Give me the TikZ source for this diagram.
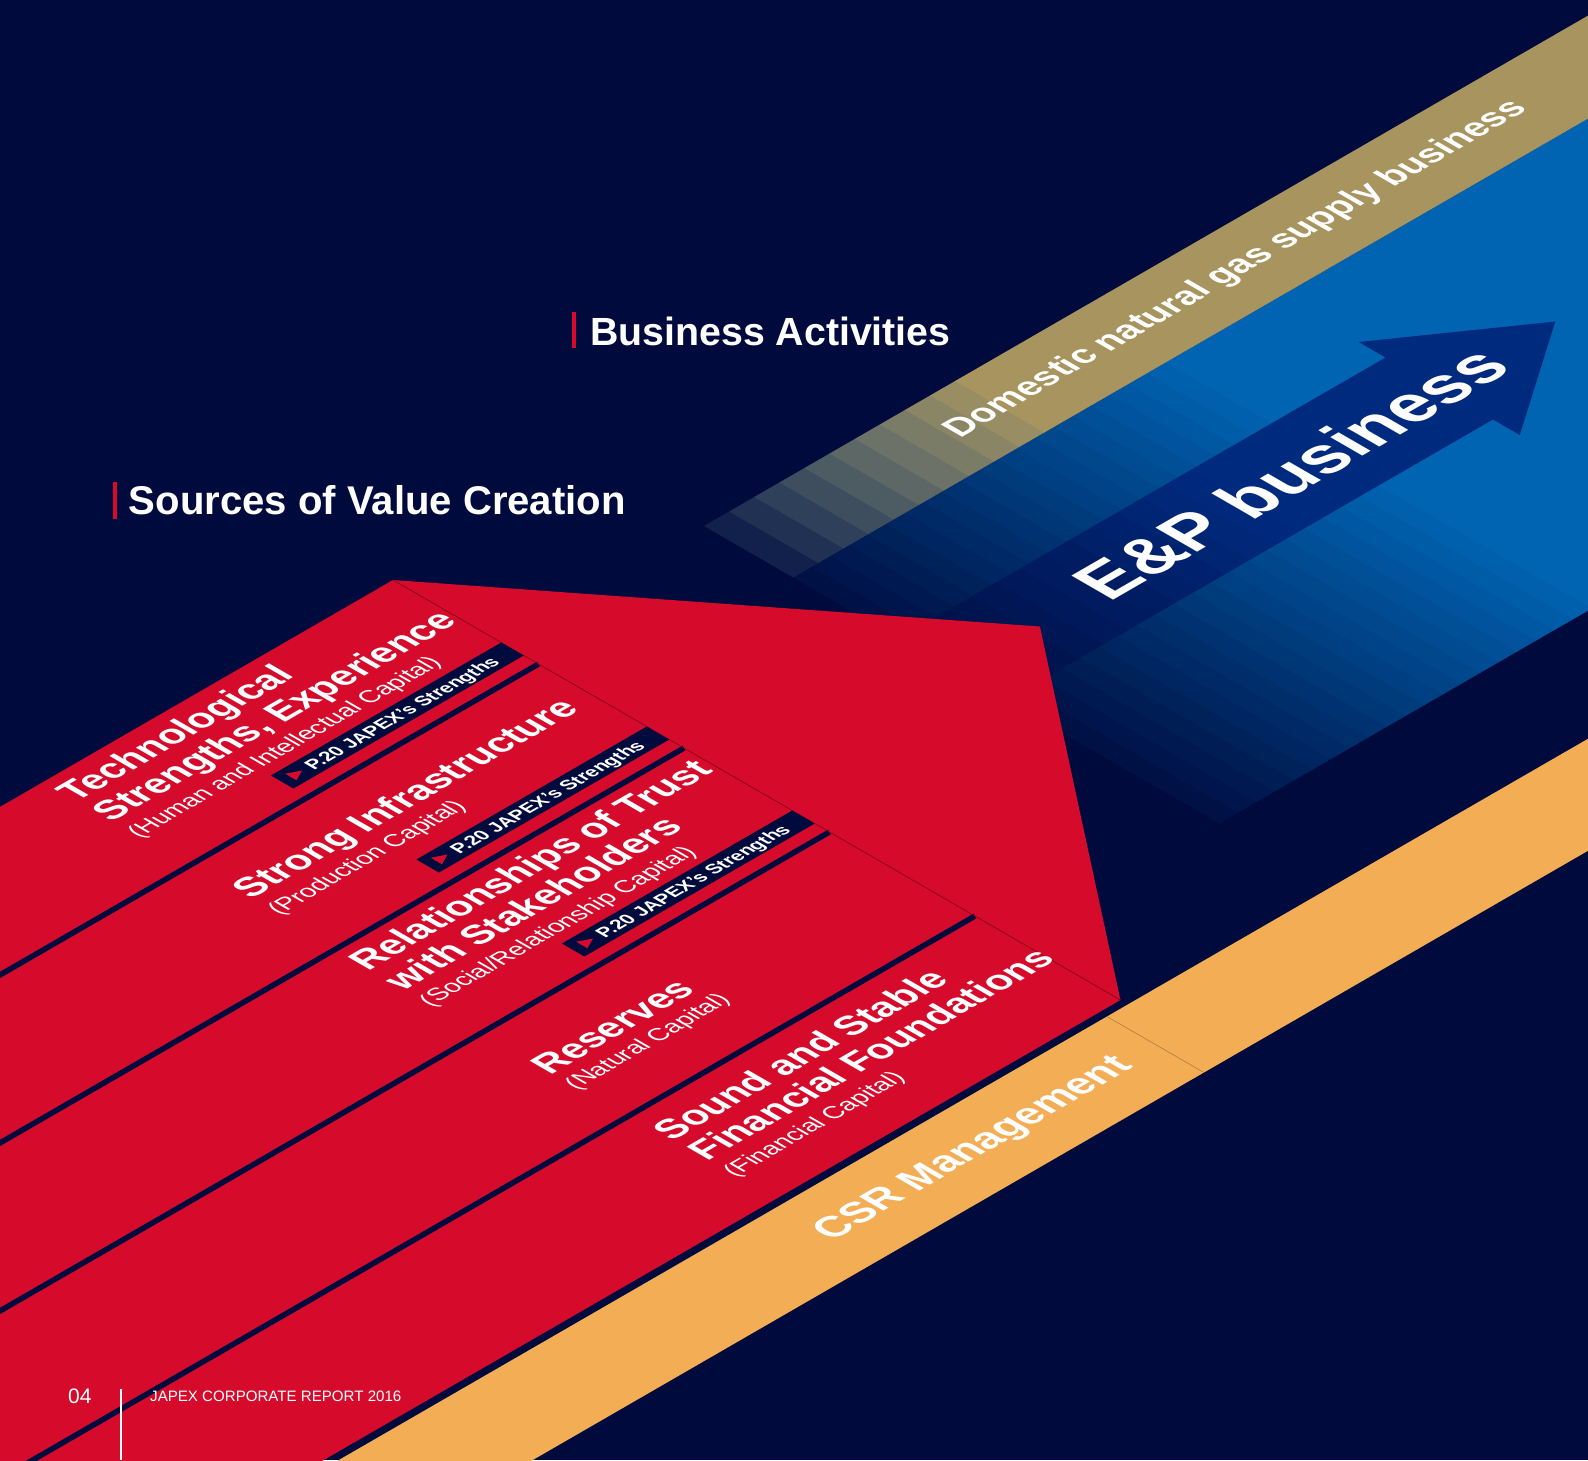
\documentclass[tikz,border=0pt]{standalone}
\usepackage{fontspec}
\setmainfont{Liberation Sans}

\definecolor{bgc}{HTML}{000A3C}
\definecolor{redc}{HTML}{D60B2C}
\definecolor{goldc}{HTML}{A8945F}
\definecolor{bluec}{HTML}{0064B2}
\definecolor{arrowc}{HTML}{002A7E}
\definecolor{orangec}{HTML}{F3AE55}

\newcommand\bigf{\fontsize{38}{40}\selectfont\bfseries}
\newcommand\subf{\fontsize{24.5}{26}\selectfont}
\newcommand\tagf{\fontsize{19.2}{20}\selectfont\bfseries}

\tikzset{
  isotext/.style={transform shape, anchor=base west, inner sep=0pt, outer sep=0pt, text=white},
  isoplane/.style={x={(0.866pt,0.5pt)}, y={(0.866pt,-0.5pt)}},
  sepline/.style={draw=bgc, line width=5.5pt},
  tagbox/.style={fill=bgc},
  tagmark/.style={fill=redc},
  heading/.style={anchor=base west, inner sep=0pt, text=white},
}

% text lying on the isometric floor: baseline along u, letter height along -v
\newcommand\isoline[4]{%
  \begin{scope}[shift={#2}, cm={0.866,0.5,-0.866,0.5,(0pt,0pt)}]
    \node[isotext, font=#3] (#1) at (0,0) {#4};
  \end{scope}}

% a "P.20 JAPEX's Strengths" tag in a red strip whose top edge is at b = #2
\newcommand\strengthtag[2]{%
  \fill[tagbox] (-266,#2+125) -- (0,#2+125) -- (0,#2+151) -- (-266,#2+151) -- cycle;
  \fill[tagmark] (-256,#2+131.5) -- (-243,#2+138) -- (-256,#2+144.5) -- cycle;
  \isoline{#1}{(-236,#2+145)}{\tagf}{P.20 JAPEX’s Strengths}}

\begin{document}
\begin{tikzpicture}[x=1pt, y=-1pt]
\useasboundingbox (0,0) rectangle (1588,1460);
\clip (0,0) rectangle (1588,1460);
\fill[bgc] (0,0) rectangle (1588,1460);

% ---------------- business activities plane (gold + blue) ----------------
\begin{scope}[shift={(704,526)}, isoplane]
  % blue field, stepped fade along u
  \foreach \i in {0,...,19}{
    \pgfmathsetmacro\qa{8+\i/20*92}
    \pgfmathsetmacro\aL{21.5*\i}
    \pgfmathsetmacro\aR{21.5*(\i+1)+0.6}
    \fill[bluec!\qa!bgc] (\aL,103) -- (\aR,103) -- (\aR,595) -- (\aL,595) -- cycle;
  }
  \fill[bluec] (430,103) -- (1300,103) -- (1300,595) -- (430,595) -- cycle;
  % gold band, stepped fade along u
  \foreach \i in {0,...,9}{
    \pgfmathsetmacro\pg{10+\i/10*90}
    \pgfmathsetmacro\qb{min(100,8+(29*\i+14.5)/430*92)}
    \pgfmathsetmacro\aL{29*\i}
    \pgfmathsetmacro\aR{29*(\i+1)+0.6}
    \colorlet{slabbase}{bluec!\qb!bgc}
    \fill[goldc!\pg!slabbase] (\aL,0) -- (\aR,0) -- (\aR,103) -- (\aL,103) -- cycle;
  }
  \fill[goldc] (290,0) -- (1300,0) -- (1300,103) -- (290,103) -- cycle;
  % E&P arrow shaft, fading to the left
  \foreach \i in {0,...,19}{
    \pgfmathsetmacro\aL{28.1*\i}
    \pgfmathsetmacro\aR{28.1*(\i+1)+0.6}
    \pgfmathsetmacro\ra{min(100,12+(28.1*\i+14)/330*88)}
    \fill[arrowc!\ra!bgc] (\aL,225) -- (\aR,225) -- (\aR,349) -- (\aL,349) -- cycle;
  }
  \fill[arrowc] (562,194) -- (696,287) -- (562,380) -- cycle;
  \isoline{gas}{(236,60)}{\fontsize{36}{36}\selectfont\bfseries}{Domestic natural gas supply business}
  \isoline{ep}{(157.5,311)}{\fontsize{70}{70}\selectfont\bfseries}{E\&P business}
\end{scope}

% ---------------- CSR band ----------------
\begin{scope}[shift={(344,1457)}, isoplane]
  \fill[orangec] (-100,0) -- (1700,0) -- (1700,112) -- (-100,112) -- cycle;
  \draw[orangec!72!black, line width=0.6pt] (881,0) -- (881,112);
  \isoline{csr}{(498,66)}{\fontsize{41}{41}\selectfont\bfseries}{CSR Management}
\end{scope}

% ---------------- sources of value creation (red arrow) ----------------
\begin{scope}[shift={(393,580)}, isoplane]
  \fill[redc] (-1600,0) -- (0,0) -- (327,420) -- (0,840) -- (-1600,840) -- cycle;
  \foreach \k in {1,...,4}{
    \draw[sepline] (-1600,{168*\k}) -- (0,{168*\k});
  }
  \draw[redc!62!black, line width=0.7pt] (0,0) -- (0,840);

  \strengthtag{tag1}{0}
  \strengthtag{tag2}{168}
  \strengthtag{tag3}{336}

  \isoline{s1a}{(-405,40)}{\bigf}{Technological}
  \isoline{s1b}{(-405,80)}{\bigf}{Strengths, Experience}
  \isoline{s1c}{(-405,112)}{\subf}{(Human and Intellectual Capital)}

  \isoline{s2a}{(-401,238)}{\bigf}{Strong Infrastructure}
  \isoline{s2b}{(-401,270)}{\subf}{(Production Capital)}

  \isoline{s3a}{(-405,377)}{\bigf}{Relationships of Trust}
  \isoline{s3b}{(-405,417)}{\bigf}{with Stakeholders}
  \isoline{s3c}{(-405,449)}{\subf}{(Social/Relationship Capital)}

  \isoline{s4a}{(-404,586)}{\bigf}{Reserves}
  \isoline{s4b}{(-404,616)}{\subf}{(Natural Capital)}

  \isoline{s5a}{(-400,723)}{\bigf}{Sound and Stable}
  \isoline{s5b}{(-400,763)}{\bigf}{Financial Foundations}
  \isoline{s5c}{(-400,795)}{\subf}{(Financial Capital)}
\end{scope}

% ---------------- headings ----------------
\fill[redc] (572,312) rectangle (576,348);
\node[heading, font=\fontsize{39.3}{40}\selectfont\bfseries] (hba) at (590,345.5) {Business Activities};
\fill[redc] (113,482) rectangle (117,519);
\node[heading, font=\fontsize{40.1}{40}\selectfont\bfseries] (hsv) at (128.6,514.5) {Sources of Value Creation};

% ---------------- footer ----------------
\node[heading, font=\fontsize{21}{21}\selectfont] (pageno) at (68,1403) {04};
\draw[white, line width=1.3pt] (121,1389) -- (121,1460);
\node[heading, font=\fontsize{15.1}{15}\selectfont] (report) at (150,1401) {JAPEX CORPORATE REPORT 2016};
\end{tikzpicture}
\end{document}
